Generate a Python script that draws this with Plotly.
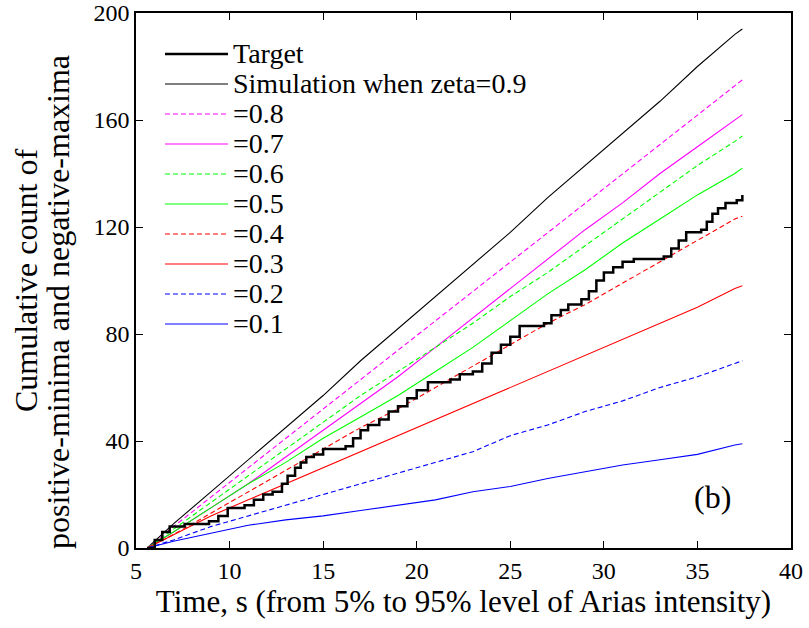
import plotly.graph_objects as go

# ---- data ----
sim_t = [5.6, 7, 9, 11, 13, 15, 17, 19, 21, 23, 25, 27, 29, 31, 33, 35, 37, 37.4]

sim_09 = [0, 9, 21, 33, 45, 57, 70, 82, 94, 106, 118, 131, 143, 155, 167, 180, 192, 194]
sim_08 = [0, 8, 19, 30, 41, 52, 63, 74, 85, 96, 107, 118, 129, 140, 151, 162, 173, 175]
sim_07 = [0, 6, 15, 24, 34, 44, 54, 64, 75, 86, 97, 108, 119, 129, 140, 150, 160, 162]
sim_06 = [0, 7, 17, 27, 37, 47, 57, 66, 75, 84, 94, 103, 113, 123, 133, 143, 152, 154]
sim_05 = [0, 6, 15, 24, 32, 41, 49, 57, 66, 75, 85, 95, 104, 114, 123, 132, 140, 142]
sim_04 = [0, 5, 13, 21, 29, 37, 45, 52, 60, 68, 76, 84, 91, 99, 107, 115, 123, 124]
sim_03 = [0, 5, 12, 18, 24, 30, 36, 42, 48, 54, 60, 66, 72, 78, 84, 90, 97, 98]
sim_02 = [0, 3, 8, 12, 16, 20, 24, 28, 32, 36, 42, 46, 51, 55, 60, 64, 69, 70]
sim_01 = [0, 2.5, 5.5, 8.5, 10.5, 12, 14, 16, 18, 21, 23, 26, 28.5, 31, 33, 35, 38.5, 39]

target_t = [5.6, 6.0, 6.4, 6.8, 7.6, 8.9, 9.4, 9.9, 10.8, 11.3,
            11.8, 12.3, 12.8, 13.1, 13.5, 13.8, 14.1, 14.5, 15.0, 16.2,
            16.6, 17.0, 17.4, 18.0, 18.5, 19.0, 19.5, 20.0, 20.6, 21.8,
            22.3, 23.0, 23.5, 24.0, 24.5, 25.0, 25.5, 26.8, 27.2, 27.7,
            28.1, 28.8, 29.2, 29.6, 30.0, 30.5, 31.0, 31.6, 33.2, 33.6,
            34.0, 34.4, 35.2, 35.5, 35.8, 36.1, 36.5, 37.1, 37.4]
target_n = [0, 3, 6, 8, 9, 10, 12, 15, 16, 18,
            20, 21, 24, 27, 30, 32, 34, 35, 37, 38,
            41, 44, 46, 48, 51, 53, 56, 59, 62, 63,
            65, 66, 69, 73, 76, 79, 83, 84, 87, 89,
            91, 93, 96, 100, 103, 105, 107, 108, 109, 112,
            115, 118, 119, 122, 125, 127, 129, 130, 132]

series_names = ["Simulation when zeta=0.9", "=0.8", "=0.7", "=0.6", "=0.5",
                "=0.4", "=0.3", "=0.2", "=0.1"]
series_vals = [sim_09, sim_08, sim_07, sim_06, sim_05, sim_04, sim_03, sim_02, sim_01]
series_colors = ["#000000", "#ff00ff", "#ff00ff", "#00ff00", "#00ff00",
                 "#ff0000", "#ff0000", "#0000ff", "#0000ff"]
series_dash = ["solid", "5px,3px", "solid", "5px,3px", "solid",
               "5px,3px", "solid", "5px,3px", "solid"]

FONT = "Liberation Serif"

# layout geometry (pixels)
W, H = 809, 628
ML, MR, MT, MB = 136, 18, 13, 80
PW, PH = W - ML - MR, H - MT - MB


def px_x(p):
    return (p - ML) / PW


def px_y(p):
    return (H - MB - p) / PH


fig = go.Figure()
for vals, nm, col, dsh in zip(series_vals, series_names, series_colors, series_dash):
    fig.add_trace(go.Scatter(
        x=sim_t, y=vals, mode="lines", name=nm, showlegend=False,
        line=dict(color=col, width=1.1, dash=dsh),
    ))

fig.add_trace(go.Scatter(
    x=target_t, y=target_n, mode="lines", name="Target", showlegend=False,
    line=dict(color="#000000", width=2.5, shape="hv"),
))

# legend drawn in the MATLAB style (tight rows)
leg_names = ["Target"] + series_names
leg_colors = ["#000000"] + series_colors
leg_dash = ["solid"] + series_dash
leg_width = [2.5] + [1.1] * len(series_names)
shapes, annotations = [], []
for k, (nm, col, dsh, lw) in enumerate(zip(leg_names, leg_colors, leg_dash, leg_width)):
    yc = 54 + 30 * k
    shapes.append(dict(type="line", xref="paper", yref="paper",
                       x0=px_x(165), x1=px_x(228), y0=px_y(yc), y1=px_y(yc),
                       line=dict(color=col, width=lw, dash=dsh)))
    annotations.append(dict(xref="paper", yref="paper", x=px_x(231), y=px_y(yc - 1),
                            xanchor="left", yanchor="middle", text=nm, showarrow=False,
                            font=dict(family=FONT, size=28, color="black")))

# y-axis title (two centred lines)
annotations.append(dict(xref="paper", yref="paper", x=px_x(26), y=px_y(281),
                        xanchor="center", yanchor="middle", textangle=-90,
                        text="Cumulative count of", showarrow=False,
                        font=dict(family=FONT, size=32, color="black")))
annotations.append(dict(xref="paper", yref="paper", x=px_x(58), y=px_y(302),
                        xanchor="center", yanchor="middle", textangle=-90,
                        text="positive-minima and negative-maxima", showarrow=False,
                        font=dict(family=FONT, size=32, color="black")))
annotations.append(dict(x=35.8, y=19, xref="x", yref="y", text="(b)", showarrow=False,
                        font=dict(family=FONT, size=32, color="black")))

fig.update_layout(
    width=W, height=H,
    margin=dict(l=ML, r=MR, t=MT, b=MB),
    paper_bgcolor="white", plot_bgcolor="white",
    font=dict(family=FONT, size=24, color="black"),
    showlegend=False,
    xaxis=dict(
        range=[5, 40], dtick=5, tick0=5, automargin=False,
        showline=True, linecolor="black", linewidth=1.5, mirror="ticks",
        ticks="inside", ticklen=7, tickwidth=1, tickcolor="black",
        showgrid=False, zeroline=False,
        tickfont=dict(family=FONT, size=24),
        title=dict(text="Time, s (from 5% to 95% level of Arias intensity)",
                   font=dict(family=FONT, size=31), standoff=4),
    ),
    yaxis=dict(
        range=[0, 200], dtick=40, tick0=0, automargin=False,
        showline=True, linecolor="black", linewidth=1.5, mirror="ticks",
        ticks="inside", ticklen=7, tickwidth=1, tickcolor="black",
        showgrid=False, zeroline=False,
        tickfont=dict(family=FONT, size=24),
    ),
    shapes=shapes,
    annotations=annotations,
)

fig.write_html("out.html")
